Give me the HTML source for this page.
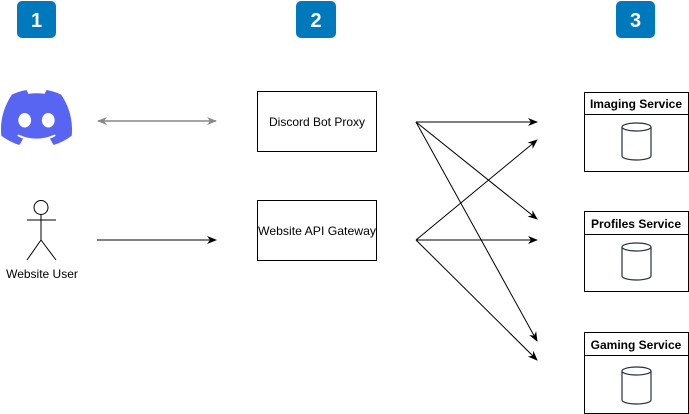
<!DOCTYPE html>
<html><head><meta charset="utf-8"><style>
html,body{margin:0;padding:0;background:#fff;width:689px;height:414px;overflow:hidden}
svg{display:block;font-family:"Liberation Sans",Arial,sans-serif}
</style></head><body>
<svg width="689" height="414" viewBox="0 0 689 414" xmlns="http://www.w3.org/2000/svg">
<defs>
<marker id="a" markerWidth="10" markerHeight="8" refX="9" refY="4" orient="auto" markerUnits="userSpaceOnUse"><path d="M0,0 L10,4 L0,8 L3,4 Z" fill="#000"/></marker>
<marker id="g" markerWidth="10" markerHeight="8" refX="9" refY="4" orient="auto-start-reverse" markerUnits="userSpaceOnUse"><path d="M0,0 L10,4 L0,8 L3,4 Z" fill="#888"/></marker>
</defs>
<g font-weight="bold" font-size="20" fill="#fff" text-anchor="middle">
<rect x="17" y="1" width="39" height="37" rx="5" fill="#0079bc"/><text x="36.5" y="27">1</text>
<rect x="296" y="1" width="40" height="37" rx="5" fill="#0079bc"/><text x="316" y="27">2</text>
<rect x="616" y="1" width="39" height="37" rx="5" fill="#0079bc"/><text x="635.5" y="27">3</text>
</g>
<g transform="translate(1,90) scale(0.5585,0.5708)">
<path fill="#5865f2" d="M107.7,8.07A105.15,105.15,0,0,0,81.47,0a72.06,72.06,0,0,0-3.36,6.830A97.68,97.68,0,0,0,49,6.83,72.37,72.37,0,0,0,45.64,0,105.890,105.890,0,0,0,19.39,8.09C2.79,32.65-1.71,56.6.54,80.21h0A105.73,105.73,0,0,0,32.71,96.36,77.7,77.7,0,0,0,39.6,85.25a68.42,68.42,0,0,1-10.85-5.18c.91-.66,1.8-1.34,2.66-2a75.57,75.57,0,0,0,64.32,0c.87.71,1.76,1.39,2.66,2a68.68,68.68,0,0,1-10.87,5.19,77,77,0,0,0,6.89,11.1A105.25,105.25,0,0,0,126.6,80.22h0C129.24,52.84,122.090,29.11,107.7,8.07ZM42.45,65.69C36.18,65.69,31,60,31,53s5-12.74,11.43-12.74S54,46,53.89,53,48.84,65.69,42.45,65.69Zm42.24,0C78.41,65.69,73.25,60,73.25,53s5-12.74,11.44-12.74S96.23,46,96.12,53,91.08,65.69,84.69,65.69Z"/>
</g>
<line x1="98" y1="121" x2="216" y2="121" stroke="#888" stroke-width="1.5" marker-start="url(#g)" marker-end="url(#g)"/>
<g stroke="#000" stroke-width="1" fill="none">
<circle cx="41" cy="207.5" r="7" fill="#fff"/>
<line x1="41" y1="214.5" x2="41" y2="240"/>
<line x1="27" y1="220" x2="56" y2="220"/>
<line x1="41" y1="240" x2="27" y2="260"/>
<line x1="41" y1="240" x2="56" y2="260"/>
</g>
<text x="42" y="278" font-size="12" text-anchor="middle">Website User</text>
<line x1="97" y1="240" x2="216" y2="240" stroke="#000" stroke-width="1" marker-end="url(#a)"/>
<rect x="257.5" y="91.5" width="119" height="60" fill="#fff" stroke="#000"/>
<text x="317" y="126" font-size="12" text-anchor="middle">Discord Bot Proxy</text>
<rect x="257.5" y="200.5" width="119" height="60" fill="#fff" stroke="#000"/>
<text x="317" y="235" font-size="12" text-anchor="middle" textLength="118" lengthAdjust="spacingAndGlyphs">Website API Gateway</text>
<g stroke="#000" stroke-width="1" marker-end="url(#a)">
<line x1="416" y1="122" x2="537" y2="122"/>
<line x1="416" y1="122" x2="537" y2="219"/>
<line x1="416" y1="122" x2="537" y2="341"/>
<line x1="416" y1="240" x2="537" y2="140"/>
<line x1="416" y1="240" x2="537" y2="240"/>
<line x1="416" y1="240" x2="537" y2="360"/>
</g>
<g stroke="#000" stroke-width="1" fill="#fff">
<rect x="584.5" y="92.5" width="104" height="79"/><line x1="584.5" y1="114.5" x2="688.5" y2="114.5"/>
<rect x="584.5" y="211.5" width="104" height="80"/><line x1="584.5" y1="234.5" x2="688.5" y2="234.5"/>
<rect x="584.5" y="332.5" width="104" height="81"/><line x1="584.5" y1="355.5" x2="688.5" y2="355.5"/>
</g>
<g font-size="12" font-weight="bold" text-anchor="middle">
<text x="636" y="108">Imaging Service</text>
<text x="636" y="228">Profiles Service</text>
<text x="636" y="349">Gaming Service</text>
</g>
<g stroke="#232f3e" stroke-width="1.2" fill="#fff">
<path d="M622,127 V156 A14.5,4 0 0 0 651,156 V127"/><ellipse cx="636.5" cy="127" rx="14.5" ry="4"/>
<path d="M622,247 V276 A14.5,4 0 0 0 651,276 V247"/><ellipse cx="636.5" cy="247" rx="14.5" ry="4"/>
<path d="M622,371 V400 A14.5,4 0 0 0 651,400 V371"/><ellipse cx="636.5" cy="371" rx="14.5" ry="4"/>
</g>
</svg>
</body></html>
